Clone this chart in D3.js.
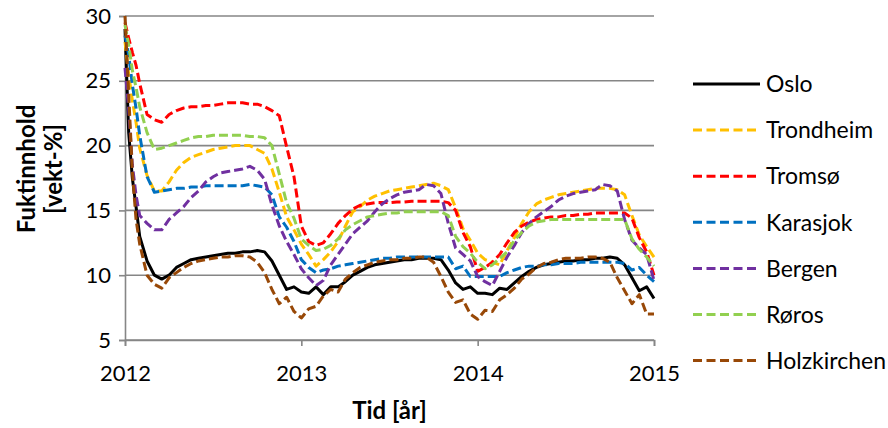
<!DOCTYPE html>
<html>
<head>
<meta charset="utf-8">
<script src="https://cdn.jsdelivr.net/npm/d3@7"></script>
<style>
  body { margin: 0; background: #fff; }
  text { font-family: Lato, "Open Sans", sans-serif; fill: #000; }
</style>
</head>
<body>
<svg id="chart" width="888" height="428"></svg>
<script>
// Sample times, in months after 1 Jan 2012
const months = [0, 0.25, 0.5, 0.75,
  1, 1.5, 2, 2.5, 3, 3.5, 4, 4.5, 5, 5.5, 6, 6.5, 7, 7.5, 8, 8.5, 9, 9.5, 10, 10.5,
  11, 11.5, 12, 12.5, 13, 13.5, 14, 14.5, 15, 15.5,
  16, 16.5, 17, 17.5, 18, 18.5, 19, 19.5, 20, 20.5,
  21, 21.5, 22, 22.5, 23, 23.5, 24, 24.5, 25, 25.5,
  26, 26.5, 27, 27.5, 28, 28.5, 29, 29.5, 30, 30.5,
  31, 31.5, 32, 32.5, 33, 33.5, 34, 34.5, 35, 35.5,
  36];

// Moisture content [weight-%] per location
const oslo = [29.0, 21.0, 17.5, 15.3,
  13.0, 11.1, 10.0, 9.7, 10.0, 10.6, 10.9, 11.2, 11.3, 11.4, 11.5, 11.6, 11.7, 11.7, 11.8, 11.8, 11.9, 11.8, 11.1, 10.0,
  8.9, 9.1, 8.7, 8.6, 9.1, 8.5, 9.1, 9.1, 9.5, 10.0,
  10.3, 10.6, 10.8, 10.9, 11.0, 11.1, 11.2, 11.2, 11.3, 11.3,
  11.3, 11.2, 10.4, 9.4, 8.9, 9.1, 8.6, 8.6, 8.5, 9.0,
  8.9, 9.4, 9.9, 10.3, 10.6, 10.8, 10.9, 11.0, 11.1, 11.1,
  11.2, 11.2, 11.3, 11.3, 11.4, 11.3, 10.8, 9.8, 8.8, 9.1,
  8.2];

const trondheim = [28.0, 25.5, 23.5, 21.8,
  19.8, 17.7, 16.5, 16.5, 17.2, 18.1, 18.7, 19.1, 19.3, 19.5, 19.7, 19.8, 19.9, 20.0, 20.0, 20.0, 19.7, 19.4, 18.2, 16.4,
  14.5, 13.5, 12.4, 11.6, 10.7, 11.2, 11.8, 12.6, 13.8, 14.9,
  15.3, 15.8, 16.1, 16.3, 16.5, 16.6, 16.7, 16.8, 16.9, 17.0,
  17.1, 16.9, 16.6, 15.2, 13.6, 12.7, 11.7, 11.2, 11.0, 10.8,
  11.9, 12.9, 14.0, 14.9, 15.5, 15.8, 16.0, 16.2, 16.3, 16.4,
  16.5, 16.6, 16.7, 16.7, 16.7, 16.6, 16.2, 14.6, 13.1, 12.2,
  11.4];

const tromso = [29.5, 28.3, 27.2, 26.2,
  24.8, 22.4, 22.0, 21.8, 22.4, 22.7, 22.9, 23.0, 23.0, 23.1, 23.1, 23.2, 23.3, 23.3, 23.3, 23.2, 23.2, 23.0, 22.7, 22.3,
  19.9, 17.6, 13.8, 12.6, 12.3, 12.5, 13.2, 14.0, 14.6, 15.1,
  15.4, 15.5, 15.6, 15.6, 15.6, 15.65, 15.65, 15.7, 15.7, 15.7,
  15.7, 15.7, 15.6, 15.0, 13.3, 12.2, 10.3, 10.6, 11.0, 11.6,
  12.5, 13.3, 13.8, 14.1, 14.3, 14.4, 14.5, 14.5, 14.6, 14.6,
  14.7, 14.7, 14.8, 14.8, 14.8, 14.8, 14.8, 14.4, 12.9, 11.8,
  10.0];

const karasjok = [28.5, 27.0, 24.7, 22.9,
  20.8, 17.6, 16.4, 16.5, 16.6, 16.7, 16.7, 16.8, 16.8, 16.9, 16.9, 16.9, 16.9, 16.9, 16.9, 17.0, 16.9, 16.8, 16.2, 14.5,
  13.7, 12.6, 11.2, 10.6, 10.2, 10.4, 10.5, 10.7, 10.8, 10.9,
  11.0, 11.1, 11.2, 11.3, 11.3, 11.4, 11.4, 11.4, 11.4, 11.4,
  11.4, 11.4, 11.4, 10.5, 10.7, 9.9, 9.9, 9.9, 9.9, 9.9,
  10.2, 10.4, 10.6, 10.7, 10.7, 10.8, 10.8, 10.9, 10.9, 10.9,
  11.0, 11.0, 11.0, 11.0, 11.0, 11.0, 10.9, 10.4, 10.6, 10.0,
  9.5];

const bergen = [26.0, 22.8, 18.5, 16.2,
  14.6, 14.0, 13.5, 13.5, 14.3, 14.8, 15.3, 16.0, 16.5, 17.2, 17.6, 17.9, 18.0, 18.1, 18.2, 18.4, 18.1, 17.4, 15.4, 13.8,
  12.6, 11.6, 10.5, 9.8, 9.2, 9.6, 10.8, 11.6, 12.4, 13.2,
  13.7, 14.2, 14.9, 15.5, 15.9, 16.2, 16.4, 16.5, 16.6, 17.0,
  16.9, 16.3, 14.0, 12.1, 11.6, 11.1, 9.9, 9.5, 9.2, 10.3,
  11.4, 12.3, 13.3, 14.0, 14.5, 14.9, 15.3, 15.8, 16.1, 16.3,
  16.4, 16.5, 16.6, 17.0, 16.9, 16.5, 14.3, 12.7, 12.1, 11.6,
  9.6];

const roros = [29.3, 27.8, 25.8, 24.5,
  23.0, 21.0, 19.7, 19.8, 20.0, 20.2, 20.4, 20.6, 20.7, 20.7, 20.8, 20.8, 20.8, 20.8, 20.8, 20.7, 20.7, 20.6, 20.0, 17.8,
  15.6, 14.4, 12.8, 12.3, 11.9, 12.0, 12.3, 12.8, 13.5, 13.9,
  14.2, 14.5, 14.6, 14.7, 14.8, 14.8, 14.9, 14.9, 14.9, 14.9,
  14.9, 14.9, 14.6, 13.0, 12.2, 11.7, 11.0, 10.5, 10.8, 11.3,
  11.8, 12.7, 13.3, 13.8, 14.1, 14.2, 14.3, 14.3, 14.3, 14.3,
  14.3, 14.3, 14.3, 14.3, 14.3, 14.3, 14.3, 12.8, 12.0, 11.4,
  10.7];

const holzkirchen = [30.0, 24.0, 18.0, 14.3,
  12.4, 10.0, 9.3, 9.0, 9.8, 10.2, 10.6, 10.9, 11.1, 11.2, 11.3, 11.4, 11.4, 11.5, 11.5, 11.4, 11.0, 10.2, 8.9, 7.8,
  8.3, 7.2, 6.7, 7.4, 7.6, 8.4, 8.9, 8.7, 9.7, 10.2,
  10.6, 10.8, 11.0, 11.1, 11.2, 11.2, 11.3, 11.3, 11.4, 11.4,
  11.0, 9.9, 8.7, 7.9, 8.1, 7.0, 6.6, 7.3, 7.2, 8.1,
  8.5, 9.0, 9.7, 10.1, 10.6, 10.9, 11.0, 11.2, 11.3, 11.3,
  11.3, 11.4, 11.4, 11.3, 11.0, 9.8, 8.8, 7.8, 8.5, 7.0,
  7.0];

const seriesNames = ["Oslo", "Trondheim", "Tromsø", "Karasjok", "Bergen", "Røros", "Holzkirchen"];
const seriesValues = [oslo, trondheim, tromso, karasjok, bergen, roros, holzkirchen];
const seriesColors = ["#000000", "#FFC000", "#FF0000", "#0070C0", "#7030A0", "#92D050", "#984807"];
const seriesDashed = [false, true, true, true, true, true, true];

const yearTicks = [0, 12, 24, 36];
const yearLabels = ["2012", "2013", "2014", "2015"];
const yTicks = [5, 10, 15, 20, 25, 30];

const svg = d3.select("#chart");
const plot = { left: 125, right: 654, top: 16, bottom: 340 };

const x = d3.scaleLinear().domain([0, 36]).range([plot.left, plot.right]);
const y = d3.scaleLinear().domain([5, 30]).range([plot.bottom, plot.top]);

const gridColor = "#868686";
const font = "Lato, 'Open Sans', sans-serif";

// horizontal gridlines
svg.append("g").selectAll("line").data(yTicks).join("line")
  .attr("x1", plot.left).attr("x2", plot.right)
  .attr("y1", d => y(d)).attr("y2", d => y(d))
  .attr("stroke", gridColor).attr("stroke-width", 1.6);

// y axis
const yAxis = svg.append("g").attr("transform", `translate(${plot.left},0)`)
  .call(d3.axisLeft(y).tickValues(yTicks).tickSize(6).tickPadding(8).tickFormat(d3.format("d")));
yAxis.select(".domain").attr("stroke", gridColor).attr("stroke-width", 1.6);
yAxis.selectAll(".tick line").attr("stroke", gridColor).attr("stroke-width", 1.6);
yAxis.selectAll(".tick text").style("font-family", font)
  .style("font-size", "22px").attr("fill", "#000");

// x axis
const xAxis = svg.append("g").attr("transform", `translate(0,${plot.bottom})`)
  .call(d3.axisBottom(x).tickValues(yearTicks).tickSize(6).tickPadding(19)
    .tickFormat((d, i) => yearLabels[i]));
xAxis.select(".domain").attr("stroke", gridColor).attr("stroke-width", 1.6);
xAxis.selectAll(".tick line").attr("stroke", gridColor).attr("stroke-width", 1.6);
xAxis.selectAll(".tick text").style("font-family", font)
  .style("font-size", "22px").attr("fill", "#000");

// series lines
const line = d3.line()
  .x((d, i) => x(months[i]))
  .y(d => y(d));

svg.append("g").selectAll("path").data(seriesValues).join("path")
  .attr("d", d => line(d))
  .attr("fill", "none")
  .attr("stroke", (d, i) => seriesColors[i])
  .attr("stroke-width", 3)
  .attr("stroke-linejoin", "round")
  .attr("stroke-dasharray", (d, i) => seriesDashed[i] ? "9,4" : null);

// axis titles
svg.append("text")
  .attr("x", (plot.left + plot.right) / 2).attr("y", 419)
  .attr("text-anchor", "middle")
  .style("font-size", "24px").style("font-weight", "bold")
  .text("Tid [år]");

const yTitle = svg.append("text")
  .attr("transform", "translate(0,169) rotate(-90)")
  .attr("text-anchor", "middle")
  .style("font-size", "24px").style("font-weight", "bold");
yTitle.append("tspan").attr("x", 0).attr("y", 35).text("Fuktinnhold");
yTitle.append("tspan").attr("x", 0).attr("y", 62).text("[vekt-%]");

// legend
const legend = svg.append("g").selectAll("g").data(seriesNames).join("g")
  .attr("transform", (d, i) => `translate(693,${84 + i * 46.1})`);
legend.append("line")
  .attr("x1", 0).attr("x2", 67).attr("y1", 0).attr("y2", 0)
  .attr("stroke", (d, i) => seriesColors[i])
  .attr("stroke-width", 3)
  .attr("stroke-dasharray", (d, i) => seriesDashed[i] ? "9,4.5" : null);
legend.append("text")
  .attr("x", 73).attr("y", 0).attr("dy", "0.36em")
  .style("font-size", "23px")
  .text(d => d);
</script>
</body>
</html>
